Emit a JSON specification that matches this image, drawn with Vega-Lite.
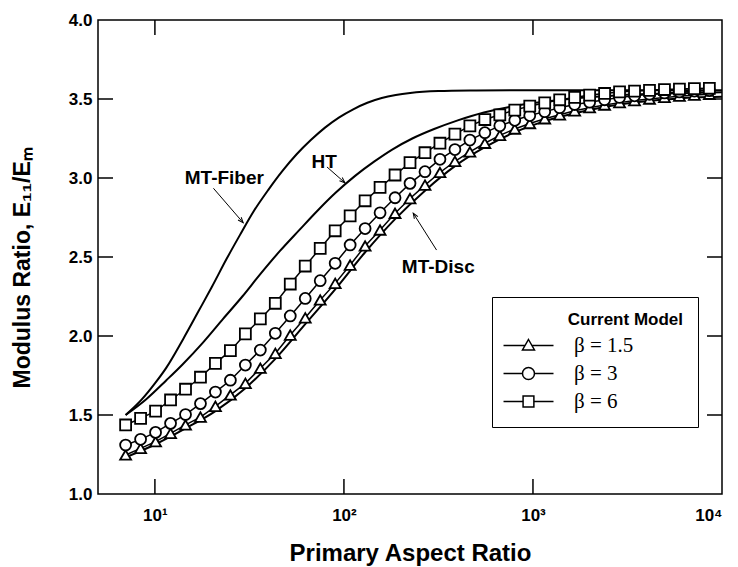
{
  "$schema": "https://vega.github.io/schema/vega-lite/v6.json",
  "width": 624,
  "height": 474,
  "autosize": {"type": "none"},
  "padding": {"left": 98, "top": 20, "right": 16, "bottom": 73},
  "background": "white",
  "config": {
    "view": {"stroke": "black", "strokeWidth": 1.5},
    "font": "Liberation Sans",
    "axis": {
      "grid": false, "domain": false, "ticks": false, "tickSize": 0,
      "labelFont": "Liberation Sans", "labelFontWeight": "bold", "labelFontSize": 17, "labelColor": "black",
      "titleFont": "Liberation Sans", "titleFontWeight": "bold", "titleFontSize": 23, "titleColor": "black"
    }
  },
  "datasets": {
    "xticks": [{"p": 10}, {"p": 100}, {"p": 1000}],
    "yticks": [{"p": 1.5}, {"p": 2}, {"p": 2.5}, {"p": 3}, {"p": 3.5}],
    "curves": [
      {"model": "MT-Fiber", "aspect": 7, "value": 1.50},
      {"model": "MT-Fiber", "aspect": 8.5, "value": 1.597},
      {"model": "MT-Fiber", "aspect": 10, "value": 1.70},
      {"model": "MT-Fiber", "aspect": 11.5, "value": 1.80},
      {"model": "MT-Fiber", "aspect": 14.1, "value": 1.98},
      {"model": "MT-Fiber", "aspect": 17, "value": 2.156},
      {"model": "MT-Fiber", "aspect": 20, "value": 2.31},
      {"model": "MT-Fiber", "aspect": 24, "value": 2.49},
      {"model": "MT-Fiber", "aspect": 28.2, "value": 2.64},
      {"model": "MT-Fiber", "aspect": 33.5, "value": 2.794},
      {"model": "MT-Fiber", "aspect": 39.8, "value": 2.925},
      {"model": "MT-Fiber", "aspect": 47.3, "value": 3.045},
      {"model": "MT-Fiber", "aspect": 56.2, "value": 3.15},
      {"model": "MT-Fiber", "aspect": 66.8, "value": 3.24},
      {"model": "MT-Fiber", "aspect": 79.4, "value": 3.319},
      {"model": "MT-Fiber", "aspect": 94.4, "value": 3.384},
      {"model": "MT-Fiber", "aspect": 112, "value": 3.435},
      {"model": "MT-Fiber", "aspect": 133, "value": 3.476},
      {"model": "MT-Fiber", "aspect": 158.5, "value": 3.506},
      {"model": "MT-Fiber", "aspect": 188, "value": 3.525},
      {"model": "MT-Fiber", "aspect": 224, "value": 3.538},
      {"model": "MT-Fiber", "aspect": 316, "value": 3.55},
      {"model": "MT-Fiber", "aspect": 500, "value": 3.554},
      {"model": "MT-Fiber", "aspect": 1000, "value": 3.556},
      {"model": "MT-Fiber", "aspect": 10000, "value": 3.556},
      {"model": "HT", "aspect": 7, "value": 1.50},
      {"model": "HT", "aspect": 9, "value": 1.60},
      {"model": "HT", "aspect": 11.5, "value": 1.72},
      {"model": "HT", "aspect": 14, "value": 1.82},
      {"model": "HT", "aspect": 18, "value": 1.96},
      {"model": "HT", "aspect": 23, "value": 2.11},
      {"model": "HT", "aspect": 29, "value": 2.25},
      {"model": "HT", "aspect": 36, "value": 2.39},
      {"model": "HT", "aspect": 46, "value": 2.54},
      {"model": "HT", "aspect": 58, "value": 2.67},
      {"model": "HT", "aspect": 72, "value": 2.79},
      {"model": "HT", "aspect": 90, "value": 2.905},
      {"model": "HT", "aspect": 115, "value": 3.015},
      {"model": "HT", "aspect": 145, "value": 3.105},
      {"model": "HT", "aspect": 180, "value": 3.18},
      {"model": "HT", "aspect": 230, "value": 3.25},
      {"model": "HT", "aspect": 300, "value": 3.31},
      {"model": "HT", "aspect": 400, "value": 3.365},
      {"model": "HT", "aspect": 550, "value": 3.415},
      {"model": "HT", "aspect": 750, "value": 3.45},
      {"model": "HT", "aspect": 1000, "value": 3.474},
      {"model": "HT", "aspect": 1500, "value": 3.499},
      {"model": "HT", "aspect": 2500, "value": 3.519},
      {"model": "HT", "aspect": 4000, "value": 3.531},
      {"model": "HT", "aspect": 6000, "value": 3.537},
      {"model": "HT", "aspect": 10000, "value": 3.542},
      {"model": "MT-Disc", "aspect": 7, "value": 1.232},
      {"model": "MT-Disc", "aspect": 10.08, "value": 1.315},
      {"model": "MT-Disc", "aspect": 14.52, "value": 1.415},
      {"model": "MT-Disc", "aspect": 20.9, "value": 1.525},
      {"model": "MT-Disc", "aspect": 30.1, "value": 1.67},
      {"model": "MT-Disc", "aspect": 43.34, "value": 1.855},
      {"model": "MT-Disc", "aspect": 62.41, "value": 2.075},
      {"model": "MT-Disc", "aspect": 89.87, "value": 2.295},
      {"model": "MT-Disc", "aspect": 129.42, "value": 2.53},
      {"model": "MT-Disc", "aspect": 186.36, "value": 2.74},
      {"model": "MT-Disc", "aspect": 268.36, "value": 2.92},
      {"model": "MT-Disc", "aspect": 386.44, "value": 3.075},
      {"model": "MT-Disc", "aspect": 556.48, "value": 3.195},
      {"model": "MT-Disc", "aspect": 801.33, "value": 3.29},
      {"model": "MT-Disc", "aspect": 1153.9, "value": 3.36},
      {"model": "MT-Disc", "aspect": 1661.6, "value": 3.41},
      {"model": "MT-Disc", "aspect": 2392.8, "value": 3.45},
      {"model": "MT-Disc", "aspect": 3445.6, "value": 3.478},
      {"model": "MT-Disc", "aspect": 4961.6, "value": 3.497},
      {"model": "MT-Disc", "aspect": 7144.8, "value": 3.51},
      {"model": "MT-Disc", "aspect": 10000, "value": 3.515}
    ],
    "series": [
      {"beta": "β = 1.5", "aspect": 7, "value": 1.247},
      {"beta": "β = 1.5", "aspect": 8.4, "value": 1.289},
      {"beta": "β = 1.5", "aspect": 10.08, "value": 1.331},
      {"beta": "β = 1.5", "aspect": 12.1, "value": 1.384},
      {"beta": "β = 1.5", "aspect": 14.52, "value": 1.437},
      {"beta": "β = 1.5", "aspect": 17.42, "value": 1.487},
      {"beta": "β = 1.5", "aspect": 20.9, "value": 1.555},
      {"beta": "β = 1.5", "aspect": 25.08, "value": 1.627},
      {"beta": "β = 1.5", "aspect": 30.1, "value": 1.70},
      {"beta": "β = 1.5", "aspect": 36.12, "value": 1.796},
      {"beta": "β = 1.5", "aspect": 43.34, "value": 1.89},
      {"beta": "β = 1.5", "aspect": 52.01, "value": 2.006},
      {"beta": "β = 1.5", "aspect": 62.41, "value": 2.115},
      {"beta": "β = 1.5", "aspect": 74.9, "value": 2.228},
      {"beta": "β = 1.5", "aspect": 89.87, "value": 2.333},
      {"beta": "β = 1.5", "aspect": 107.85, "value": 2.449},
      {"beta": "β = 1.5", "aspect": 129.42, "value": 2.57},
      {"beta": "β = 1.5", "aspect": 155.3, "value": 2.671},
      {"beta": "β = 1.5", "aspect": 186.36, "value": 2.777},
      {"beta": "β = 1.5", "aspect": 223.64, "value": 2.87},
      {"beta": "β = 1.5", "aspect": 268.36, "value": 2.955},
      {"beta": "β = 1.5", "aspect": 322.04, "value": 3.035},
      {"beta": "β = 1.5", "aspect": 386.44, "value": 3.105},
      {"beta": "β = 1.5", "aspect": 463.73, "value": 3.165},
      {"beta": "β = 1.5", "aspect": 556.48, "value": 3.22},
      {"beta": "β = 1.5", "aspect": 667.77, "value": 3.27},
      {"beta": "β = 1.5", "aspect": 801.33, "value": 3.31},
      {"beta": "β = 1.5", "aspect": 961.59, "value": 3.345},
      {"beta": "β = 1.5", "aspect": 1153.9, "value": 3.375},
      {"beta": "β = 1.5", "aspect": 1384.7, "value": 3.40},
      {"beta": "β = 1.5", "aspect": 1661.6, "value": 3.425},
      {"beta": "β = 1.5", "aspect": 1994, "value": 3.445},
      {"beta": "β = 1.5", "aspect": 2392.8, "value": 3.462},
      {"beta": "β = 1.5", "aspect": 2871.3, "value": 3.477},
      {"beta": "β = 1.5", "aspect": 3445.6, "value": 3.49},
      {"beta": "β = 1.5", "aspect": 4134.7, "value": 3.50},
      {"beta": "β = 1.5", "aspect": 4961.6, "value": 3.51},
      {"beta": "β = 1.5", "aspect": 5954, "value": 3.518},
      {"beta": "β = 1.5", "aspect": 7144.8, "value": 3.525},
      {"beta": "β = 1.5", "aspect": 8573.7, "value": 3.53},
      {"beta": "β = 3", "aspect": 7, "value": 1.31},
      {"beta": "β = 3", "aspect": 8.4, "value": 1.346},
      {"beta": "β = 3", "aspect": 10.08, "value": 1.39},
      {"beta": "β = 3", "aspect": 12.1, "value": 1.447},
      {"beta": "β = 3", "aspect": 14.52, "value": 1.503},
      {"beta": "β = 3", "aspect": 17.42, "value": 1.572},
      {"beta": "β = 3", "aspect": 20.9, "value": 1.645},
      {"beta": "β = 3", "aspect": 25.08, "value": 1.72},
      {"beta": "β = 3", "aspect": 30.1, "value": 1.816},
      {"beta": "β = 3", "aspect": 36.12, "value": 1.911},
      {"beta": "β = 3", "aspect": 43.34, "value": 2.017},
      {"beta": "β = 3", "aspect": 52.01, "value": 2.127},
      {"beta": "β = 3", "aspect": 62.41, "value": 2.238},
      {"beta": "β = 3", "aspect": 74.9, "value": 2.35},
      {"beta": "β = 3", "aspect": 89.87, "value": 2.46},
      {"beta": "β = 3", "aspect": 107.85, "value": 2.576},
      {"beta": "β = 3", "aspect": 129.42, "value": 2.68},
      {"beta": "β = 3", "aspect": 155.3, "value": 2.78},
      {"beta": "β = 3", "aspect": 186.36, "value": 2.875},
      {"beta": "β = 3", "aspect": 223.64, "value": 2.966},
      {"beta": "β = 3", "aspect": 268.36, "value": 3.04},
      {"beta": "β = 3", "aspect": 322.04, "value": 3.118},
      {"beta": "β = 3", "aspect": 386.44, "value": 3.18},
      {"beta": "β = 3", "aspect": 463.73, "value": 3.24},
      {"beta": "β = 3", "aspect": 556.48, "value": 3.287},
      {"beta": "β = 3", "aspect": 667.77, "value": 3.33},
      {"beta": "β = 3", "aspect": 801.33, "value": 3.365},
      {"beta": "β = 3", "aspect": 961.59, "value": 3.395},
      {"beta": "β = 3", "aspect": 1153.9, "value": 3.42},
      {"beta": "β = 3", "aspect": 1384.7, "value": 3.445},
      {"beta": "β = 3", "aspect": 1661.6, "value": 3.465},
      {"beta": "β = 3", "aspect": 1994, "value": 3.48},
      {"beta": "β = 3", "aspect": 2392.8, "value": 3.495},
      {"beta": "β = 3", "aspect": 2871.3, "value": 3.51},
      {"beta": "β = 3", "aspect": 3445.6, "value": 3.52},
      {"beta": "β = 3", "aspect": 4134.7, "value": 3.53},
      {"beta": "β = 3", "aspect": 4961.6, "value": 3.538},
      {"beta": "β = 3", "aspect": 5954, "value": 3.545},
      {"beta": "β = 3", "aspect": 7144.8, "value": 3.55},
      {"beta": "β = 3", "aspect": 8573.7, "value": 3.553},
      {"beta": "β = 6", "aspect": 7, "value": 1.437},
      {"beta": "β = 6", "aspect": 8.4, "value": 1.479},
      {"beta": "β = 6", "aspect": 10.08, "value": 1.525},
      {"beta": "β = 6", "aspect": 12.1, "value": 1.595},
      {"beta": "β = 6", "aspect": 14.52, "value": 1.663},
      {"beta": "β = 6", "aspect": 17.42, "value": 1.739},
      {"beta": "β = 6", "aspect": 20.9, "value": 1.827},
      {"beta": "β = 6", "aspect": 25.08, "value": 1.907},
      {"beta": "β = 6", "aspect": 30.1, "value": 2.013},
      {"beta": "β = 6", "aspect": 36.12, "value": 2.108},
      {"beta": "β = 6", "aspect": 43.34, "value": 2.207},
      {"beta": "β = 6", "aspect": 52.01, "value": 2.329},
      {"beta": "β = 6", "aspect": 62.41, "value": 2.443},
      {"beta": "β = 6", "aspect": 74.9, "value": 2.555},
      {"beta": "β = 6", "aspect": 89.87, "value": 2.666},
      {"beta": "β = 6", "aspect": 107.85, "value": 2.76},
      {"beta": "β = 6", "aspect": 129.42, "value": 2.856},
      {"beta": "β = 6", "aspect": 155.3, "value": 2.941},
      {"beta": "β = 6", "aspect": 186.36, "value": 3.019},
      {"beta": "β = 6", "aspect": 223.64, "value": 3.097},
      {"beta": "β = 6", "aspect": 268.36, "value": 3.16},
      {"beta": "β = 6", "aspect": 322.04, "value": 3.22},
      {"beta": "β = 6", "aspect": 386.44, "value": 3.278},
      {"beta": "β = 6", "aspect": 463.73, "value": 3.33},
      {"beta": "β = 6", "aspect": 556.48, "value": 3.37},
      {"beta": "β = 6", "aspect": 667.77, "value": 3.40},
      {"beta": "β = 6", "aspect": 801.33, "value": 3.43},
      {"beta": "β = 6", "aspect": 961.59, "value": 3.455},
      {"beta": "β = 6", "aspect": 1153.9, "value": 3.475},
      {"beta": "β = 6", "aspect": 1384.7, "value": 3.495},
      {"beta": "β = 6", "aspect": 1661.6, "value": 3.51},
      {"beta": "β = 6", "aspect": 1994, "value": 3.525},
      {"beta": "β = 6", "aspect": 2392.8, "value": 3.535},
      {"beta": "β = 6", "aspect": 2871.3, "value": 3.545},
      {"beta": "β = 6", "aspect": 3445.6, "value": 3.55},
      {"beta": "β = 6", "aspect": 4134.7, "value": 3.555},
      {"beta": "β = 6", "aspect": 4961.6, "value": 3.56},
      {"beta": "β = 6", "aspect": 5954, "value": 3.563},
      {"beta": "β = 6", "aspect": 7144.8, "value": 3.566},
      {"beta": "β = 6", "aspect": 8573.7, "value": 3.568}
    ],
    "notes": [
      {"label": "MT-Fiber", "aspect": 23.3, "value": 3.0, "tailAspect": 20.4, "tailValue": 2.935, "headAspect": 29.3, "headValue": 2.717},
      {"label": "HT", "aspect": 78.5, "value": 3.10, "tailAspect": 81.3, "tailValue": 3.07, "headAspect": 101.2, "headValue": 2.97},
      {"label": "MT-Disc", "aspect": 315.6, "value": 2.434, "tailAspect": 309, "tailValue": 2.544, "headAspect": 232.6, "headValue": 2.777}
    ]
  },
  "layer": [
    {
      "data": {"name": "curves"},
      "mark": {"type": "line", "color": "black", "strokeWidth": 2, "interpolate": "monotone"},
      "encoding": {
        "x": {"field": "aspect", "type": "quantitative",
              "scale": {"type": "log", "domain": [5, 10000], "nice": false},
              "axis": {"orient": "bottom", "values": [10, 100, 1000, 10000], "labelPadding": 13, "titlePadding": 18, "titleFontSize": 24,
                       "labelExpr": "datum.value == 10 ? '10¹' : datum.value == 100 ? '10²' : datum.value == 1000 ? '10³' : '10⁴'",
                       "title": "Primary Aspect Ratio"}},
        "y": {"field": "value", "type": "quantitative",
              "scale": {"domain": [1, 4], "nice": false, "zero": false},
              "axis": {"orient": "left", "values": [1, 1.5, 2, 2.5, 3, 3.5, 4], "format": ".1f", "labelPadding": 6,
                       "titleX": -76, "titleY": 368, "titleAngle": 270, "titleAlign": "left", "titleBaseline": "middle",
                       "title": "Modulus Ratio, E₁₁/Eₘ"}},
        "detail": {"field": "model", "type": "nominal"}
      }
    },
    {
      "data": {"name": "xticks"},
      "mark": {"type": "tick", "orient": "vertical", "size": 30, "thickness": 1.5, "color": "black", "opacity": 1, "clip": true},
      "encoding": {
        "x": {"field": "p", "type": "quantitative", "axis": null},
        "y": {"datum": 1, "type": "quantitative", "axis": null}
      }
    },
    {
      "data": {"name": "xticks"},
      "mark": {"type": "tick", "orient": "vertical", "size": 30, "thickness": 1.5, "color": "black", "opacity": 1, "clip": true},
      "encoding": {
        "x": {"field": "p", "type": "quantitative", "axis": null},
        "y": {"datum": 4, "type": "quantitative", "axis": null}
      }
    },
    {
      "data": {"name": "yticks"},
      "mark": {"type": "tick", "orient": "horizontal", "size": 30, "thickness": 1.5, "color": "black", "opacity": 1, "clip": true},
      "encoding": {
        "x": {"datum": 5, "type": "quantitative", "axis": null},
        "y": {"field": "p", "type": "quantitative", "axis": null}
      }
    },
    {
      "data": {"name": "yticks"},
      "mark": {"type": "tick", "orient": "horizontal", "size": 30, "thickness": 1.5, "color": "black", "opacity": 1, "clip": true},
      "encoding": {
        "x": {"datum": 10000, "type": "quantitative", "axis": null},
        "y": {"field": "p", "type": "quantitative", "axis": null}
      }
    },
    {
      "data": {"name": "series"},
      "mark": {"type": "line", "color": "black", "strokeWidth": 1.5},
      "encoding": {
        "x": {"field": "aspect", "type": "quantitative", "axis": null},
        "y": {"field": "value", "type": "quantitative", "axis": null},
        "detail": {"field": "beta", "type": "nominal"}
      }
    },
    {
      "data": {"name": "series"},
      "mark": {"type": "point", "filled": true, "fill": "white", "stroke": "black", "strokeWidth": 1.8, "size": 120, "opacity": 1},
      "encoding": {
        "x": {"field": "aspect", "type": "quantitative", "axis": null},
        "y": {"field": "value", "type": "quantitative", "axis": null},
        "shape": {"field": "beta", "type": "nominal",
                  "scale": {"domain": ["β = 1.5", "β = 3", "β = 6"], "range": ["triangle-up", "circle", "square"]},
                  "legend": null}
      }
    },
    {
      "data": {"name": "series"},
      "transform": [{"filter": "false"}],
      "mark": {"type": "point", "filled": false, "stroke": "black", "strokeWidth": 1.5, "opacity": 1},
      "encoding": {
        "x": {"field": "aspect", "type": "quantitative", "axis": null},
        "y": {"field": "value", "type": "quantitative", "axis": null},
        "shape": {"field": "beta", "type": "nominal",
                  "scale": {"domain": ["β = 1.5", "β = 3", "β = 6"],
                            "range": ["M-2.33,0H1.26M2.4,0H6M1.83,-1L2.83,0.75L0.83,0.75Z",
                                      "M-2.33,0H0.83M2.83,0H6M2.83,0A1,1 0 1,1 0.83,0A1,1 0 1,1 2.83,0Z",
                                      "M-2.33,0H0.93M2.73,0H6M0.93,-0.9H2.73V0.9H0.93ZM27,0"]},
                  "legend": {
                    "title": "Current Model", "orient": "none", "legendX": 394, "legendY": 277,
                    "strokeColor": "black", "fillColor": "white", "padding": 15, "cornerRadius": 0,
                    "symbolSize": 144, "symbolStrokeWidth": 1.5, "symbolStrokeColor": "black", "symbolFillColor": "white",
                    "labelFont": "Liberation Serif", "labelFontSize": 21, "labelColor": "black",
                    "labelOffset": 46, "titleFont": "Liberation Sans", "titleFontWeight": "bold", "titleFontSize": 17,
                    "titleColor": "black", "titleAnchor": "end", "titlePadding": 6, "rowPadding": 6,
                    "encode": {
                      "legend": {"update": {"strokeWidth": {"value": 1.5}}},
                      "symbols": {"update": {"stroke": {"value": "black"}, "fill": {"value": "white"}, "strokeWidth": {"value": 1.5}, "opacity": {"value": 1}}}
                    }
                  }}
      }
    },
    {
      "data": {"name": "notes"},
      "mark": {"type": "text", "font": "Liberation Sans", "fontWeight": "bold", "fontSize": 19, "color": "black", "align": "center", "baseline": "middle"},
      "encoding": {
        "x": {"field": "aspect", "type": "quantitative", "axis": null},
        "y": {"field": "value", "type": "quantitative", "axis": null},
        "text": {"field": "label"}
      }
    },
    {
      "data": {"name": "notes"},
      "mark": {"type": "rule", "color": "black", "strokeWidth": 1},
      "encoding": {
        "x": {"field": "tailAspect", "type": "quantitative", "axis": null},
        "y": {"field": "tailValue", "type": "quantitative", "axis": null},
        "x2": {"field": "headAspect"},
        "y2": {"field": "headValue"}
      }
    },
    {
      "data": {"name": "notes"},
      "transform": [{"filter": "datum.label === 'MT-Fiber'"}],
      "mark": {"type": "point", "shape": "M-0.7,1.8L0,0L0.7,1.8", "size": 36, "angle": 138.9, "filled": false, "stroke": "black", "strokeWidth": 1, "opacity": 1},
      "encoding": {
        "x": {"field": "headAspect", "type": "quantitative", "axis": null},
        "y": {"field": "headValue", "type": "quantitative", "axis": null}
      }
    },
    {
      "data": {"name": "notes"},
      "transform": [{"filter": "datum.label === 'HT'"}],
      "mark": {"type": "point", "shape": "M-0.7,1.8L0,0L0.7,1.8", "size": 36, "angle": 131.3, "filled": false, "stroke": "black", "strokeWidth": 1, "opacity": 1},
      "encoding": {
        "x": {"field": "headAspect", "type": "quantitative", "axis": null},
        "y": {"field": "headValue", "type": "quantitative", "axis": null}
      }
    },
    {
      "data": {"name": "notes"},
      "transform": [{"filter": "datum.label === 'MT-Disc'"}],
      "mark": {"type": "point", "shape": "M-0.7,1.8L0,0L0.7,1.8", "size": 36, "angle": 327.5, "filled": false, "stroke": "black", "strokeWidth": 1, "opacity": 1},
      "encoding": {
        "x": {"field": "headAspect", "type": "quantitative", "axis": null},
        "y": {"field": "headValue", "type": "quantitative", "axis": null}
      }
    }
  ],
  "resolve": {"axis": {"x": "independent", "y": "independent"}, "scale": {"shape": "independent"}}
}
